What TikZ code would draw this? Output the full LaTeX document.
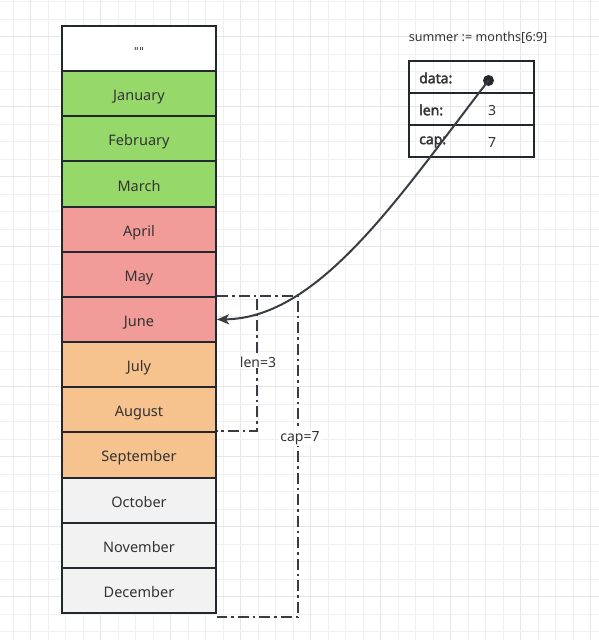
\documentclass[tikz,border=0pt]{standalone}
\usepackage{fontspec}
\setmainfont{Noto Sans}
\newfontfamily\fbold{Noto Sans}[FakeBold=2.5]
\newfontfamily\dvq{DejaVu Sans}
\usetikzlibrary{arrows.meta}
\definecolor{gridminor}{HTML}{F0F0F0}
\definecolor{gridmajor}{HTML}{E6E6E6}
\definecolor{edge}{HTML}{23282E}
\definecolor{txt}{HTML}{333333}
\definecolor{cwhite}{HTML}{FFFFFF}
\definecolor{cgreen}{HTML}{97D86A}
\definecolor{cred}{HTML}{F19C99}
\definecolor{corange}{HTML}{F6C28E}
\definecolor{cgray}{HTML}{F2F2F2}
\tikzset{
  cell/.style={draw=edge, line width=2pt, minimum width=154pt, minimum height=45.15pt,
    inner sep=0pt, text=txt, font=\fontsize{14.5}{16}\selectfont, text height=14pt, text depth=0pt},
  field/.style={draw=edge, line width=2pt, minimum width=125pt, minimum height=32pt,
    inner sep=0pt},
  lbl/.style={text=txt, font=\fontsize{14}{16}\selectfont, inner sep=1pt},
  blbl/.style={text=txt, font=\fbold\fontsize{14}{16}\selectfont, inner sep=1pt, anchor=west},
  dd/.style={draw=edge!90, line width=2pt, dash pattern=on 11pt off 4pt on 2.5pt off 4pt},
  ptr/.style={draw=edge!90, line width=2pt, -{Stealth[length=12pt,width=10pt,inset=3pt]}}
}
\begin{document}
\begin{tikzpicture}[x=1pt,y=-1pt]
\useasboundingbox (0,0) rectangle (599,640);
\fill[white] (0,0) rectangle (599,640);
% grid
\foreach \k in {0,...,33}{
  \pgfmathtruncatemacro{\m}{mod(\k-1,4)}
  \ifnum\m=0 \def\gc{gridmajor}\else\def\gc{gridminor}\fi
  \draw[\gc, line width=1pt] ({13.3+17.5*\k},0) -- ({13.3+17.5*\k},640);
}
\foreach \k in {0,...,36}{
  \pgfmathtruncatemacro{\m}{mod(\k+2,4)}
  \ifnum\m=0 \def\gc{gridmajor}\else\def\gc{gridminor}\fi
  \draw[\gc, line width=1pt] (0,{1.7+17.5*\k}) -- (599,{1.7+17.5*\k});
}
% array cells
\foreach \i/\nm/\t/\c in {0/empty/{{\dvq\fontsize{11}{13}\selectfont\symbol{34}\symbol{34}}}/cwhite, 1/jan/January/cgreen, 2/feb/February/cgreen,
  3/mar/March/cgreen, 4/apr/April/cred, 5/may/May/cred, 6/jun/June/cred,
  7/jul/July/corange, 8/aug/August/corange, 9/sep/September/corange,
  10/oct/October/cgray, 11/nov/November/cgray, 12/dec/December/cgray}{
  \node[cell, fill=\c] (\nm) at (139,{26+45.15*(\i+0.5)}) {\t};
}
% slice header
\node[lbl, font=\fontsize{12.6}{15}\selectfont] (title) at (478,38) {summer := months[6:9]};
\node[field] (fdata) at (471.5,77) {};
\node[field] (flen) at (471.5,109) {};
\node[field] (fcap) at (471.5,141) {};
\node[blbl] (ldata) at (418,78) {data:};
\node[blbl] (llen) at (418,110) {len:};
\node[blbl] (lcap) at (418,142) {cap:};
\node[lbl] (vlen) at (492,110) {3};
\node[lbl] (vcap) at (492,142) {7};
% pointer
\coordinate (dot) at (488.5,80.5);
\fill[edge] (dot) circle (5.5pt);
\draw[ptr] (dot) .. controls (400,195) and (320,318) .. (jun.east);
% brackets
\coordinate (lenc) at (257,0);
\coordinate (capc) at (298,0);
\coordinate (capb) at ([yshift=-3pt]dec.south east);
\draw[dd] (jun.north east) -- (jun.north east -| lenc) -- (sep.north east -| lenc) -- (sep.north east);
\draw[dd] (jun.north east) -- (jun.north east -| capc) -- (capb -| capc) -- (capb);
\node[lbl, fill=white] (lenl) at (258,362) {len=3};
\node[lbl, fill=white] (capl) at (300,438) {cap=7};
\end{tikzpicture}
\end{document}
